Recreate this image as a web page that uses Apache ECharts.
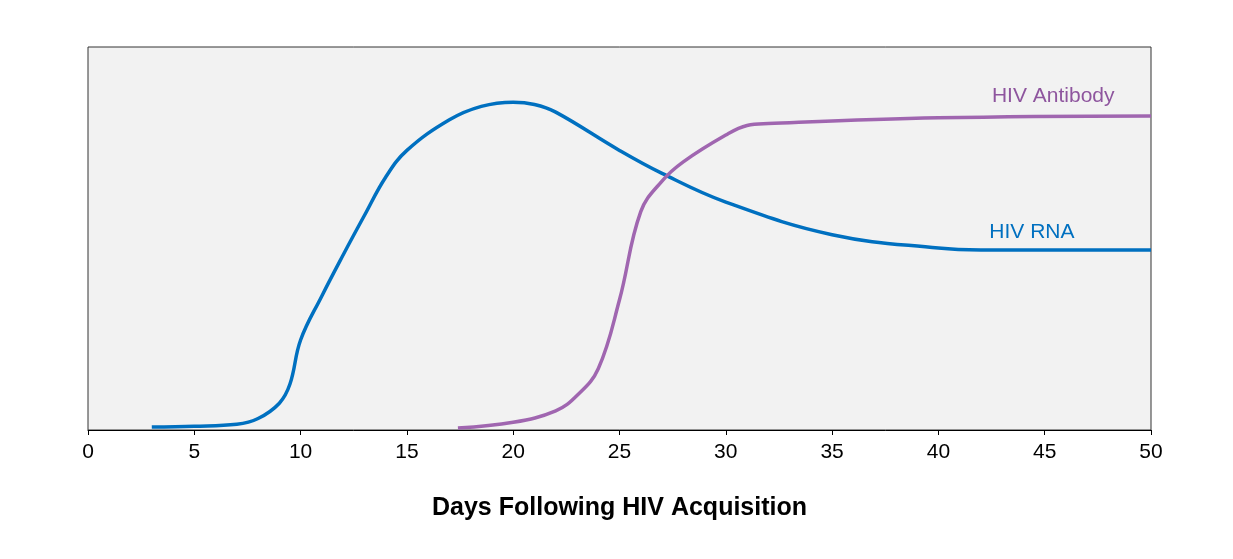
<!DOCTYPE html>
<html><head><meta charset="utf-8">
<script src="https://cdn.jsdelivr.net/npm/echarts@6/dist/echarts.min.js"></script>
<style>html,body{margin:0;background:#fff}#c{width:1233px;height:559px}</style>
</head><body><div id="c"></div>
<script>
const rnaDays = [3,5,7,8,9,9.5,10,11,12,13,14,15,17,18.5,20,21,22,25,27,30,35,40,42,50];
const rnaVals = [0.8,1,1.5,3,7,12,23.5,35,45.7,56,66,73,81,84.5,85.6,85,83,73,67,59.5,51,47.5,47,47];
const abDays = [17.4,20,22,23,24,25,26,27,28,30,31,32,40,50];
const abVals = [0.5,2,5,9,16,34,57,65,70,77,79.5,80,81.5,82];
const xTicks = [0,5,10,15,20,25,30,35,40,45,50];
const chart = echarts.init(document.getElementById('c'));
const font = 'Liberation Sans, Arial, sans-serif';
chart.setOption({
  animation:false,
  grid:{left:88,right:82,top:47,bottom:129,show:true,backgroundColor:'#f2f2f2',borderColor:'#333',borderWidth:1},
  xAxis:{type:'value',min:0,max:50,interval:5,
    name:'Days Following HIV Acquisition',nameLocation:'middle',nameGap:66,
    nameTextStyle:{fontFamily:font,fontSize:25,fontWeight:'bold',color:'#000'},
    axisLine:{lineStyle:{color:'#000'}},axisTick:{show:true,lineStyle:{color:'#000'}},
    axisLabel:{fontFamily:font,fontSize:21,color:'#000',margin:12,formatter:v=>xTicks.includes(v)?String(v):''},
    splitLine:{show:false}},
  yAxis:{type:'value',min:0,max:100,axisLine:{show:false},axisTick:{show:false},axisLabel:{show:false},splitLine:{show:false}},
  series:[
    {type:'line',data:rnaDays.map((d,i)=>[d,rnaVals[i]]),smooth:0.4,symbol:'none',
      lineStyle:{color:'#0070c0',width:3.5},
      markPoint:{symbol:'circle',symbolSize:0,data:[{coord:[44.4,51.7]}],
        label:{show:true,formatter:'HIV RNA',color:'#0070c0',fontFamily:font,fontSize:21}}},
    {type:'line',data:abDays.map((d,i)=>[d,abVals[i]]),smooth:0.4,symbol:'none',
      lineStyle:{color:'#a066b0',width:3.5},
      markPoint:{symbol:'circle',symbolSize:0,data:[{coord:[45.4,87.2]}],
        label:{show:true,formatter:'HIV Antibody',color:'#8e559e',fontFamily:font,fontSize:21}}}
  ]
});
</script></body></html>
